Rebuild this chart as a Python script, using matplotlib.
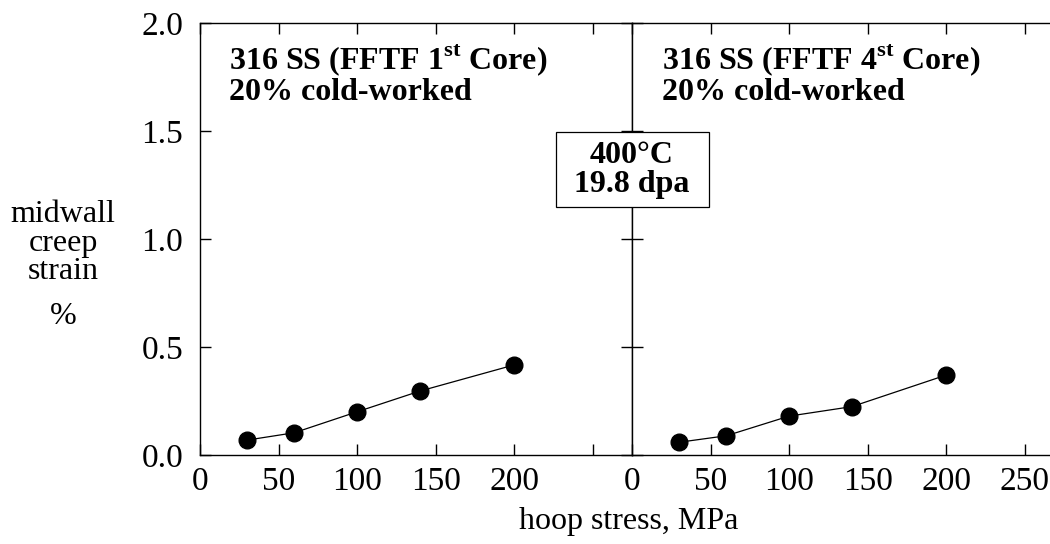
import matplotlib
matplotlib.use("Agg")
import matplotlib.pyplot as plt
from matplotlib.patches import Rectangle

plt.rcParams["font.family"] = ["Liberation Serif", "DejaVu Serif"]
plt.rcParams["mathtext.fontset"] = "custom"
plt.rcParams["mathtext.rm"] = "Liberation Serif"
plt.rcParams["mathtext.bf"] = "Liberation Serif:bold"

# hoop stress (MPa) and midwall creep strain (%)
stress_1st = [30, 60, 100, 140, 200]
strain_1st = [0.069, 0.103, 0.200, 0.296, 0.417]
stress_4th = [30, 60, 100, 140, 200]
strain_4th = [0.059, 0.089, 0.180, 0.224, 0.370]

x_ticks_left = [0, 50, 100, 150, 200]
x_ticks_right = [0, 50, 100, 150, 200, 250]
y_ticks = [0.0, 0.5, 1.0, 1.5, 2.0]

W, H = 1050, 544
fig = plt.figure(figsize=(W / 100, H / 100), dpi=100)

x0, x_mid, y_bot, y_top = 200, 632, 455, 23
ax_w = (x_mid - x0) / W
ax_h = (y_bot - y_top) / H
ax1 = fig.add_axes([x0 / W, (H - y_bot) / H, ax_w, ax_h])
ax2 = fig.add_axes([x_mid / W, (H - y_bot) / H, ax_w, ax_h])

fs_tick = 24
fs = 23
for ax, xs, ys in [(ax1, stress_1st, strain_1st), (ax2, stress_4th, strain_4th)]:
    ax.plot(xs, ys, color="black", lw=0.9, marker="o", ms=12,
            markerfacecolor="black", markeredgecolor="black", clip_on=False)
    ax.set_xlim(0, 275)
    ax.set_ylim(0, 2.0)
    ax.set_xticks(x_ticks_right)
    ax.set_yticks(y_ticks)
    ax.tick_params(direction="in", length=8, width=1.0, labelsize=fs_tick,
                   top=True, pad=8)
    for s in ax.spines.values():
        s.set_linewidth(1.0)

ax1.set_xticklabels([str(v) for v in x_ticks_left] + [""])
ax1.set_yticklabels([f"{v:.1f}" for v in y_ticks])
ax1.tick_params(axis="y", right=True, pad=12)
ax2.set_xticklabels([str(v) for v in x_ticks_right])
ax2.tick_params(axis="y", left=True, labelleft=False)
ax2.spines["right"].set_visible(False)

ax1.text(18.5, 1.91, "316 SS (FFTF 1$^{\\mathbf{st}}$ Core)\n20% cold-worked",
         fontsize=fs, fontweight="bold", va="top", ha="left", linespacing=1.0)
ax2.text(19, 1.91, "316 SS (FFTF 4$^{\\mathbf{st}}$ Core)\n20% cold-worked",
         fontsize=fs, fontweight="bold", va="top", ha="left", linespacing=1.0)

# condition box in the middle
fig.add_artist(Rectangle((556 / W, 1 - 207 / H), 153 / W, 75 / H,
                         transform=fig.transFigure, fc="white", ec="black",
                         lw=0.9, zorder=4))
fig.text(x_mid / W, 1 - 170 / H, "400°C\n19.8 dpa", fontsize=fs,
         fontweight="bold", ha="center", va="center", linespacing=1.0,
         zorder=5)

fig.text(63 / W, 1 - 243 / H, "midwall\ncreep\nstrain", fontsize=fs,
         ha="center", va="center", linespacing=0.98)
fig.text(63 / W, 1 - 316 / H, "%", fontsize=fs, ha="center", va="center")
fig.text(629 / W, 1 - 521 / H, "hoop stress, MPa", fontsize=fs,
         ha="center", va="center")

fig.savefig("out.png", dpi=100)
